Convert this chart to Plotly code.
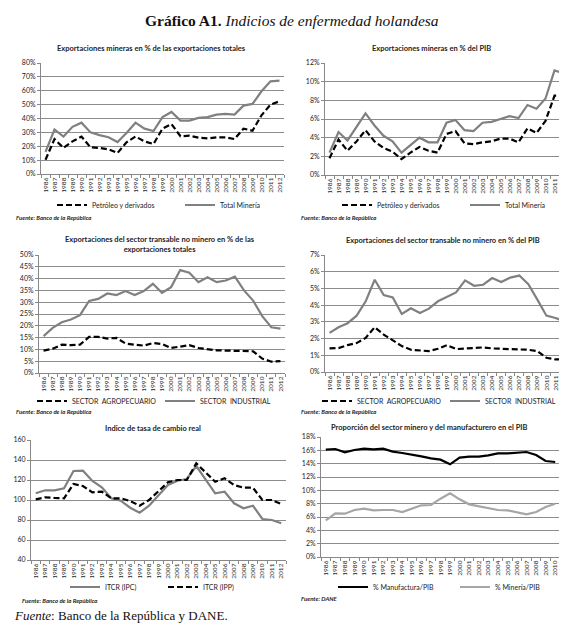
import plotly.graph_objects as go

W, H = 567, 623

years = [str(y) for y in range(1986, 2013)]
years_pib = [str(y) for y in range(1986, 2011)]

# panel 1: mining exports as % of total exports
min_exp_total = [16, 32, 27, 34, 37, 30, 28, 26.5, 23, 29.5, 37, 32.7, 31, 41, 44.7,
                 38.5, 38.5, 40.4, 41, 42.8, 43.3, 42.8, 49.3, 50.5, 59.6, 66.8, 67.3]
min_exp_petro = [10.3, 25.2, 18.8, 23.5, 27, 19.2, 18.8, 17.8, 15.1, 22.8, 27, 23.5, 21.6,
                 32.7, 36, 27.2, 27.6, 26.2, 25.7, 26.4, 26.4, 25.2, 32.7, 31.2, 42.3, 50, 52.4]

# panel 2: mining exports as % of GDP
min_pib_total = [2.4, 4.6, 3.7, 5.1, 6.6, 5.3, 4.2, 3.6, 2.4, 3.2, 4.0, 3.5, 3.5, 5.6, 5.9,
                 4.8, 4.7, 5.6, 5.7, 6.0, 6.3, 6.1, 7.5, 7.1, 8.2, 11.2, 10.9]
min_pib_petro = [1.8, 3.8, 2.6, 3.6, 4.8, 3.6, 2.9, 2.5, 1.7, 2.4, 3.0, 2.6, 2.4, 4.4, 4.7,
                 3.4, 3.3, 3.5, 3.6, 3.9, 3.9, 3.5, 5.0, 4.5, 5.8, 8.5, 8.5]

# panel 3: non-mining tradables as % of total exports
nm_exp_ind = [15.6, 19.1, 21.5, 22.7, 24.5, 30.5, 31.4, 33.7, 33.0, 34.7, 33.0, 34.7, 37.8,
              34.0, 36.4, 43.6, 42.5, 38.5, 40.6, 38.5, 39.2, 40.8, 35, 30.7, 24.1, 19.4, 18.8]
nm_exp_agro = [9.5, 10.3, 12, 11.8, 12, 15.3, 15.3, 14.6, 14.9, 12.5, 12, 11.6, 12.7, 12.3,
               10.6, 11.3, 11.8, 10.6, 10, 9.6, 9.5, 9.5, 9.2, 9.2, 6.1, 4.8, 5.0]

# panel 4: non-mining tradables as % of GDP
nm_pib_ind = [2.34, 2.68, 2.92, 3.37, 4.23, 5.52, 4.6, 4.46, 3.47, 3.81, 3.53, 3.79, 4.23,
              4.52, 4.76, 5.48, 5.16, 5.22, 5.62, 5.38, 5.65, 5.77, 5.26, 4.33, 3.37, 3.23, 3.04]
nm_pib_agro = [1.41, 1.43, 1.61, 1.73, 2.04, 2.68, 2.24, 1.92, 1.55, 1.33, 1.29, 1.25, 1.39,
               1.61, 1.37, 1.41, 1.45, 1.47, 1.41, 1.39, 1.35, 1.33, 1.33, 1.25, 0.85, 0.75, 0.77]

# panel 5: real exchange rate index
itcr_ipc = [106.7, 109.7, 109.7, 111.7, 129, 129.3, 119, 112.7, 101.7, 99.3, 92.3, 87.3, 94.3,
            105, 115, 119.3, 121, 134, 120, 106.7, 108.3, 96.7, 91.7, 94.3, 81, 80, 76.7]
itcr_ipp = [100.7, 102.7, 102, 101.7, 116, 114, 107.7, 108.3, 101.7, 101.7, 99, 94.3, 100,
            109, 117.7, 120, 120, 136.7, 127.7, 118.3, 121.7, 115, 112.3, 112.3, 100, 100, 96]

# panel 6: share of mining and manufacturing in GDP
manuf_pib = [16.1, 16.2, 15.7, 16.05, 16.25, 16.15, 16.25, 15.8, 15.6, 15.4, 15.1, 14.8, 14.6,
             13.9, 14.9, 15.05, 15.05, 15.25, 15.55, 15.55, 15.65, 15.75, 15.3, 14.4, 14.25]
mineria_pib = [5.5, 6.55, 6.5, 7.05, 7.25, 7.0, 7.05, 7.05, 6.75, 7.3, 7.75, 7.8, 8.75, 9.55,
               8.65, 7.9, 7.65, 7.4, 7.05, 7.0, 6.75, 6.4, 6.75, 7.5, 8.0]

FONT = "Lato"
GRAY = "#808080"
DASH = "6px,3px"


def px_x(p):
    return p / W


def px_y(p):
    return 1 - p / H


fig = go.Figure()

panels = [
    dict(x=(33, 276), y=(55, 166), rng=[0, 80], dt=10, suf="%", cats=years,
         title="Exportaciones mineras en % de las exportaciones totales", t=(143, 41),
         leg=(44, 197), ew=83,
         traces=[("Petróleo y derivados", min_exp_petro, "black", DASH),
                 ("Total Minería", min_exp_total, GRAY, "solid")]),
    dict(x=(317, 560), y=(55, 167), rng=[0, 12], dt=2, suf="%", cats=years,
         title="Exportaciones mineras en % del PIB", t=(423, 41),
         leg=(329, 197), ew=83,
         traces=[("Petróleo y derivados", min_pib_petro, "black", DASH),
                 ("Total Minería", min_pib_total, GRAY, "solid")]),
    dict(x=(31, 277), y=(247, 365), rng=[0, 50], dt=5, suf="%", cats=years,
         title="Exportaciones del sector transable no minero en % de las<br>exportaciones totales",
         t=(152, 236), leg=(24, 393), ew=83,
         traces=[("SECTOR  AGROPECUARIO", nm_exp_agro, "black", DASH),
                 ("SECTOR  INDUSTRIAL", nm_exp_ind, GRAY, "solid")]),
    dict(x=(317, 561), y=(247, 364), rng=[0, 7], dt=1, suf="%", cats=years,
         title="Exportaciones del sector transable no minero en % del PIB", t=(435, 232),
         leg=(309, 393), ew=83,
         traces=[("SECTOR  AGROPECUARIO", nm_pib_agro, "black", DASH),
                 ("SECTOR  INDUSTRIAL", nm_pib_ind, GRAY, "solid")]),
    dict(x=(23, 278), y=(432, 552), rng=[40, 160], dt=20, suf="", cats=years,
         title="Indice de tasa de cambio real", t=(145, 420),
         leg=(57, 579), ew=53,
         traces=[("ITCR (IPC)", itcr_ipc, GRAY, "solid"),
                 ("ITCR (IPP)", itcr_ipp, "black", DASH)]),
    dict(x=(313, 552), y=(429, 549), rng=[0, 18], dt=2, suf="%", cats=years_pib,
         title="Proporción del sector minero y del manufacturero en el PIB", t=(421, 419),
         leg=(325, 579), ew=77,
         traces=[("% Manufactura/PIB", manuf_pib, "black", "solid"),
                 ("% Minería/PIB", mineria_pib, "#a6a6a6", "solid")]),
]

annotations = []
layout_extra = {}
for i, p in enumerate(panels, start=1):
    sfx = "" if i == 1 else str(i)
    xa, ya, lg = "x" + sfx, "y" + sfx, "legend" + sfx
    for name, vals, color, dash in p["traces"]:
        fig.add_trace(go.Scatter(
            x=p["cats"], y=vals, name=name, mode="lines",
            line=dict(color=color, width=2.2, dash=dash),
            xaxis=xa, yaxis=ya, legend=lg,
        ))
    layout_extra["xaxis" + sfx] = dict(
        domain=[px_x(p["x"][0]), px_x(p["x"][1])], anchor=ya,
        type="category", range=[-0.5, len(p["cats"]) - 0.5],
        tickmode="array", tickvals=p["cats"], ticktext=p["cats"],
        tickangle=-90, tickfont=dict(size=6.5, color="#222"),
        ticks="outside", tickson="boundaries", ticklen=3, tickcolor="#888",
        showline=True, linecolor="#888", linewidth=1, showgrid=False, fixedrange=True,
    )
    layout_extra["yaxis" + sfx] = dict(
        domain=[px_y(p["y"][1]), px_y(p["y"][0])], anchor=xa,
        range=p["rng"], dtick=p["dt"], ticksuffix=p["suf"],
        tickfont=dict(size=7, color="#222"),
        showgrid=True, gridcolor="#8c8c8c", gridwidth=1,
        showline=True, linecolor="#888", linewidth=1,
        ticks="outside", ticklen=3, tickcolor="#888", zeroline=False, fixedrange=True,
    )
    layout_extra[lg] = dict(
        x=px_x(p["leg"][0]), y=px_y(p["leg"][1]), xanchor="left", yanchor="middle",
        orientation="h", font=dict(size=7, color="#222"), bgcolor="rgba(0,0,0,0)",
        entrywidth=p["ew"], entrywidthmode="pixels", itemwidth=30,
    )
    annotations.append(dict(
        text="<b>" + p["title"] + "</b>", x=px_x(p["t"][0]), y=px_y(p["t"][1]),
        xref="paper", yref="paper", showarrow=False, xanchor="center", yanchor="middle",
        font=dict(size=7.5, color="#222"),
    ))

# small source notes under each panel
for nx, ny, txt in [(6, 210, "Fuente: Banco de la República"),
                    (291, 210, "Fuente: Banco de la República"),
                    (6, 403, "Fuente: Banco de la República"),
                    (291, 403, "Fuente: Banco de la República"),
                    (12, 592, "Fuente: Banco de la República"),
                    (291, 590, "Fuente: DANE")]:
    annotations.append(dict(
        text="<b><i>" + txt + "</i></b>", x=px_x(nx), y=px_y(ny), xref="paper", yref="paper",
        showarrow=False, xanchor="left", yanchor="middle", font=dict(size=6, color="#222"),
    ))

annotations.append(dict(
    text="<b>Gráfico A1.</b> <i>Indicios de enfermedad holandesa</i>",
    x=0.5, y=px_y(13), xref="paper", yref="paper", showarrow=False,
    xanchor="center", yanchor="middle",
    font=dict(family="Liberation Serif", size=15.5, color="#111"),
))
annotations.append(dict(
    text="<i>Fuente</i>: Banco de la República y DANE.",
    x=px_x(4), y=px_y(607), xref="paper", yref="paper", showarrow=False,
    xanchor="left", yanchor="middle",
    font=dict(family="Liberation Serif", size=13, color="#111"),
))

fig.update_layout(
    width=W, height=H, margin=dict(l=0, r=0, t=0, b=0, autoexpand=False),
    paper_bgcolor="white", plot_bgcolor="white",
    font=dict(family=FONT, color="#222"),
    annotations=annotations, **layout_extra,
)

fig.write_html("out.html")
